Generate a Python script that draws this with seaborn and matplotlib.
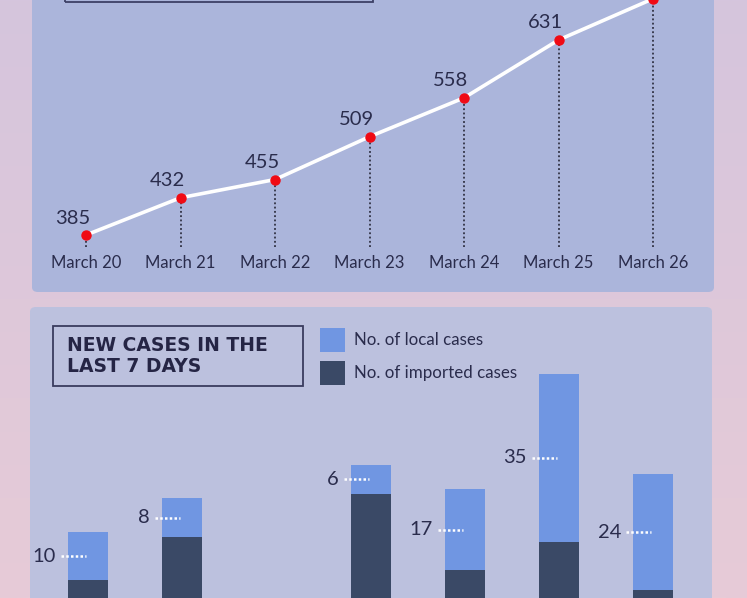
import numpy as np
import pandas as pd
import matplotlib
matplotlib.use('Agg')
import matplotlib.pyplot as plt
from matplotlib.patches import FancyBboxPatch, Rectangle
import seaborn as sns

# data
dates = ['March 20', 'March 21', 'March 22', 'March 23', 'March 24', 'March 25', 'March 26']
total_cases = [385, 432, 455, 509, 558, 631, 683]
local_cases = [10, 8, 6, 6, 17, 35, 24]
imported_cases = [30, 39, 17, 48, 32, 38, 28]

W, H = 747, 598
navy = '#2a2c4c'
c_local = '#7096e2'
c_import = '#3a4966'

sns.set_theme(style='white')
plt.rcParams['font.family'] = ['Lato', 'DejaVu Sans']

fig = plt.figure(figsize=(W / 100, H / 100), dpi=100)


def fx(px):
    return px / W


def fy(py):
    # pixel from top -> figure fraction from bottom
    return 1 - py / H


# gradient background
bg = fig.add_axes([0, 0, 1, 1], zorder=-5)
grad = np.linspace(0, 1, 256).reshape(-1, 1)
top_c = np.array(matplotlib.colors.to_rgb('#d5c5dd'))
bot_c = np.array(matplotlib.colors.to_rgb('#e7cbd7'))
img = top_c[None, None, :] * (1 - grad[:, :, None]) + bot_c[None, None, :] * grad[:, :, None]
bg.imshow(img, aspect='auto', extent=[0, 1, 0, 1])
bg.set_axis_off()

# panels
fig.patches.append(FancyBboxPatch((fx(32), fy(292)), fx(714) - fx(32), fy(-40) - fy(292),
                                  boxstyle='round,pad=0,rounding_size=0.008',
                                  transform=fig.transFigure, fc='#abb5db', ec='none', zorder=-2))
fig.patches.append(FancyBboxPatch((fx(30), fy(660)), fx(712) - fx(30), fy(307) - fy(660),
                                  boxstyle='round,pad=0,rounding_size=0.008',
                                  transform=fig.transFigure, fc='#bcc1de', ec='none', zorder=-2))

# title box of the upper panel (only its bottom edge shows)
fig.patches.append(Rectangle((fx(65), fy(2)), fx(373) - fx(65), fy(-60) - fy(2),
                             transform=fig.transFigure, fc='none', ec='#3d4066', lw=1.3, zorder=2))

# ---- upper chart: total cases ----
ppc = 0.7927  # pixels per case
y_bot_px, y_top_px = 247, -20
ax1 = fig.add_axes([0, fy(y_bot_px), 1, fy(y_top_px) - fy(y_bot_px)], zorder=3)
ax1.patch.set_alpha(0)
xpx = 94.5
x0 = -86 / xpx
ax1.set_xlim(x0, x0 + W / xpx)
ax1.set_ylim(385 - (y_bot_px - 235) / ppc, 385 + (235 - y_top_px) / ppc)

df1 = pd.DataFrame({'x': np.arange(len(dates)), 'total': total_cases})
ax1.vlines(df1['x'], ax1.get_ylim()[0], df1['total'], colors='#1c1c2a',
           linestyles=(0, (1.2, 1.6)), lw=1.1, zorder=2)
sns.lineplot(data=df1, x='x', y='total', ax=ax1, color='white', lw=2.6, zorder=3)
ax1.plot(df1['x'], df1['total'], 'o', color='#f00a14', ms=6.5, zorder=4, clip_on=False)
for xi, v in zip(df1['x'], total_cases):
    if v == total_cases[-1]:
        continue
    ax1.annotate(str(v), (xi, v), xytext=(-13, 17), textcoords='offset pixels',
                 ha='center', va='center', fontsize=14.5, color=navy)
ax1.set_xticks(df1['x'])
ax1.set_xticklabels(dates, fontsize=12, color=navy)
ax1.tick_params(axis='x', length=0, pad=6)
ax1.set_yticks([])
ax1.set_xlabel('')
ax1.set_ylabel('')
sns.despine(ax=ax1, left=True, bottom=True)

# ---- lower chart: new cases ----
bpc = 4.8  # pixels per case
base_px, top_px = 724, 320
ax2 = fig.add_axes([0, fy(base_px), 1, fy(top_px) - fy(base_px)], zorder=3)
ax2.patch.set_alpha(0)
bpx = 94.2
bx0 = -88 / bpx
bw = 40 / bpx

df2 = pd.DataFrame({'date': dates, 'local': local_cases, 'imported': imported_cases})
df2['total'] = df2['local'] + df2['imported']
sns.barplot(data=df2, x='date', y='total', ax=ax2, color=c_local, width=bw,
            saturation=1, linewidth=0, edgecolor='none', zorder=2)
sns.barplot(data=df2, x='date', y='imported', ax=ax2, color=c_import, width=bw,
            saturation=1, linewidth=0, edgecolor='none', zorder=3)
ax2.set_xlim(bx0, bx0 + W / bpx)
ax2.set_ylim(0, (base_px - top_px) / bpc)
for xi, (loc, imp) in enumerate(zip(local_cases, imported_cases)):
    ym = imp + loc / 2
    if (base_px - ym * bpc) > H:
        continue  # label lies below the visible crop
    left = xi - bw / 2 - 7 / bpx
    ax2.hlines(ym, left, xi - 2 / bpx, colors='white', linestyles=(0, (1, 0.9)), lw=1.8, zorder=4)
    ax2.text(left - 5 / bpx, ym, str(loc), ha='right', va='center', fontsize=14.5, color=navy, zorder=4)
ax2.set_axis_off()

# title box and legend of the lower panel
fig.patches.append(Rectangle((fx(53), fy(386)), fx(303) - fx(53), fy(326) - fy(386),
                             transform=fig.transFigure, fc='none', ec='#3a3c5e', lw=1.3, zorder=2))
fig.text(fx(67), fy(345.5), 'NEW CASES IN THE', fontsize=13.5, fontweight='bold',
         family=['DejaVu Sans'], color='#252545', ha='left', va='center')
fig.text(fx(67), fy(366.5), 'LAST 7 DAYS', fontsize=13.5, fontweight='bold',
         family=['DejaVu Sans'], color='#252545', ha='left', va='center')
fig.patches.append(Rectangle((fx(320), fy(352)), fx(25), fy(0) - fy(24),
                             transform=fig.transFigure, fc=c_local, ec='none', zorder=2))
fig.patches.append(Rectangle((fx(320), fy(385)), fx(25), fy(0) - fy(24),
                             transform=fig.transFigure, fc=c_import, ec='none', zorder=2))
fig.text(fx(354), fy(340), 'No. of local cases', fontsize=12.2, color=navy, ha='left', va='center')
fig.text(fx(354), fy(373), 'No. of imported cases', fontsize=12.2, color=navy, ha='left', va='center')

fig.savefig('out.png', dpi=100)
